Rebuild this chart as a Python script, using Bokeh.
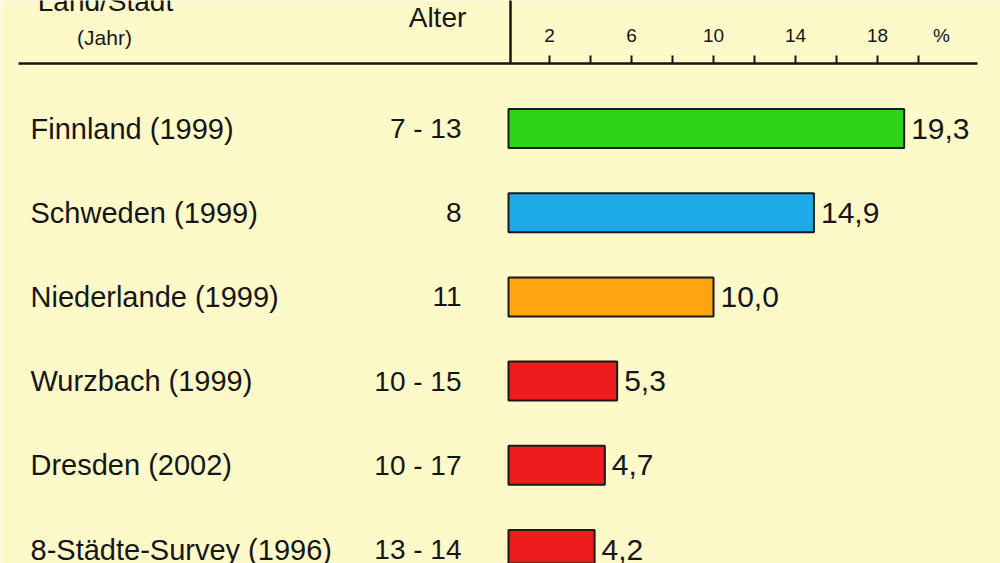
from bokeh.plotting import figure
from bokeh.models import Range1d
from bokeh.core.properties import value
from bokeh.embed import file_html
from bokeh.resources import INLINE

# ---------------- data ----------------
labels = ["Finnland (1999)", "Schweden (1999)", "Niederlande (1999)",
          "Wurzbach (1999)", "Dresden (2002)", "8-Städte-Survey (1996)"]
ages = ["7 - 13", "8", "11", "10 - 15", "10 - 17", "13 - 14"]
values = [19.3, 14.9, 10.0, 5.3, 4.7, 4.2]
value_texts = ["19,3", "14,9", "10,0", "5,3", "4,7", "4,2"]
tick_values = [2, 4, 6, 8, 10, 12, 14, 16, 18, 20]
labelled_ticks = [2, 6, 10, 14, 18]
tick_label_texts = ["2", "6", "10", "14", "18"]
unit_label = "%"
header_country = "Land/Stadt"
header_year = "(Jahr)"
header_age = "Alter"

# ---------------- style / layout ----------------
colors = ["#2ED318", "#1CAAE8", "#FFA512", "#EE1C1C", "#EE1C1C", "#EE1C1C"]
BG = "#FDF9C8"
INK = "#161616"
FONT = value("Liberation Sans")

W, H = 1000, 563
PAGE_OFF = 0
ZERO_PX = 508.0     # page x of value 0
UNIT_PX = 20.5      # pixels per percent
ROW0_PX = 128.0     # page y of first row
ROW_PX = 84.2       # pixels between rows


def px_x(X):
    return (X - ZERO_PX) / UNIT_PX


def px_y(Y):
    return (Y - ROW0_PX) / ROW_PX


rows = list(range(len(labels)))

p = figure(width=W, height=H, output_backend="svg", toolbar_location=None,
           x_range=Range1d(px_x(PAGE_OFF), px_x(PAGE_OFF + W)),
           y_range=Range1d(px_y(PAGE_OFF + H), px_y(PAGE_OFF)),
           min_border=0, x_axis_location=None, y_axis_location=None)
p.grid.visible = False
p.outline_line_color = None
p.background_fill_color = BG
p.border_fill_color = BG

# header rule and value axis
line_y = px_y(63)
p.segment(x0=[px_x(18)], x1=[px_x(977)], y0=[line_y], y1=[line_y],
          line_color=INK, line_width=2.5)
p.segment(x0=[px_x(510)], x1=[px_x(510)], y0=[px_y(-5)], y1=[line_y],
          line_color=INK, line_width=2.5)
p.segment(x0=tick_values, x1=tick_values,
          y0=[px_y(55)] * len(tick_values), y1=[line_y] * len(tick_values),
          line_color=INK, line_width=2)
p.text(x=labelled_ticks, y=[px_y(35)] * len(labelled_ticks), text=tick_label_texts,
       text_align="center", text_baseline="middle", text_font=FONT,
       text_font_size="19px", text_color=INK)
p.text(x=[px_x(941)], y=[px_y(35)], text=[unit_label],
       text_align="center", text_baseline="middle", text_font=FONT,
       text_font_size="19px", text_color=INK)

# column headers (the top line is cropped by the picture edge, as in the source)
p.text(x=[px_x(105)], y=[px_y(1)], text=[header_country],
       text_align="center", text_baseline="middle", text_font=FONT,
       text_font_size="28px", text_color=INK)
p.text(x=[px_x(104)], y=[px_y(37)], text=[header_year],
       text_align="center", text_baseline="middle", text_font=FONT,
       text_font_size="21px", text_color=INK)
p.text(x=[px_x(437)], y=[px_y(17)], text=[header_age],
       text_align="center", text_baseline="middle", text_font=FONT,
       text_font_size="28px", text_color=INK)

# bars
p.hbar(y=rows, left=0, right=values, height=39 / ROW_PX,
       fill_color=colors, line_color="#1a1a1a", line_width=2)

# row texts
p.text(x=[px_x(30)] * len(rows), y=rows, text=labels,
       text_align="left", text_baseline="middle", text_font=FONT,
       text_font_size="29px", text_color=INK)
p.text(x=[px_x(461)] * len(rows), y=rows, text=ages,
       text_align="right", text_baseline="middle", text_font=FONT,
       text_font_size="28px", text_color=INK)
p.text(x=values, y=rows, text=value_texts, x_offset=7,
       text_align="left", text_baseline="middle", text_font=FONT,
       text_font_size="30px", text_color=INK)

open("out.html", "w").write(file_html(p, INLINE))
